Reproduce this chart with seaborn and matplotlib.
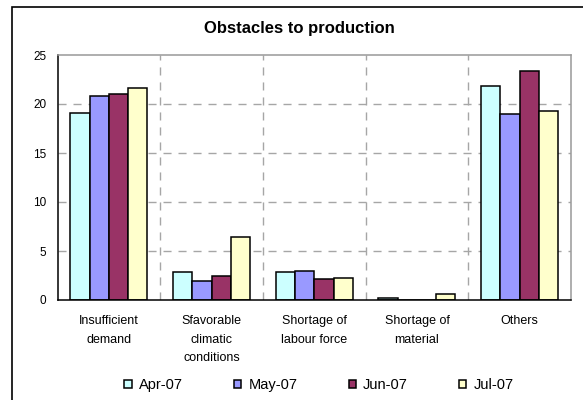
import matplotlib
matplotlib.use("Agg")
import matplotlib.pyplot as plt
import matplotlib.patches as mpatches
import seaborn as sns
import pandas as pd

categories = ["Insufficient\ndemand", "Sfavorable\nclimatic\nconditions",
              "Shortage of\nlabour force", "Shortage of\nmaterial", "Others"]
months = ["Apr-07", "May-07", "Jun-07", "Jul-07"]
apr = [19.1, 2.9, 2.9, 0.2, 21.8]
may = [20.85, 1.95, 3.0, 0.0, 18.95]
jun = [21.05, 2.45, 2.1, 0.0, 23.35]
jul = [21.6, 6.4, 2.25, 0.6, 19.3]
colors = ["#CCFFFF", "#9999FF", "#993366", "#FFFFCC"]
yticks = [0, 5, 10, 15, 20, 25]

rows = []
for m, vals in zip(months, [apr, may, jun, jul]):
    for c, v in zip(categories, vals):
        rows.append({"category": c, "month": m, "value": v})
df = pd.DataFrame(rows)

sns.set_style("white")
plt.rcParams["font.family"] = ["Liberation Sans", "DejaVu Sans"]
plt.rcParams["text.color"] = "black"
plt.rcParams["xtick.color"] = "black"
plt.rcParams["ytick.color"] = "black"
plt.rcParams["xtick.labelcolor"] = "black"
plt.rcParams["ytick.labelcolor"] = "black"

W, H = 583, 400
fig = plt.figure(figsize=(W / 100, H / 100), dpi=100)
fig.patch.set_facecolor("white")
# outer chart frame
fig.patches.append(mpatches.Rectangle((12 / W, -0.1), 1.2, (400 - 7) / H + 0.1,
                                      transform=fig.transFigure, fill=False,
                                      edgecolor="black", linewidth=1.2))

ax = fig.add_axes([57.6 / W, 1 - 300 / H, (571 - 57.6) / W, 245 / H])
sns.barplot(data=df, x="category", y="value", hue="month", palette=colors,
            saturation=1, width=0.75, edgecolor="black", linewidth=1.1,
            ax=ax, legend=True)

ax.set_xlim(-0.5, 4.5)
ax.set_ylim(0, 25)
ax.set_yticks(yticks)
ax.set_yticklabels([str(t) for t in yticks], fontsize=8.5, color="black")
ax.set_xlabel("")
ax.set_ylabel("")

# grid
grid_kw = dict(color="#A6A6A6", linestyle=(0, (5.8, 5.0)), linewidth=1.0, zorder=0)
for t in yticks[1:-1]:
    ax.axhline(t, **grid_kw)
for b in [0.5, 1.5, 2.5, 3.5]:
    ax.axvline(b, **grid_kw)

ax.set_xticks(range(len(categories)))
ax.set_xticklabels(categories, fontsize=9, linespacing=1.72, va="top", color="black")
ax.tick_params(axis="x", which="major", length=0, pad=11)
ax.set_xticks([-0.5, 0.5, 1.5, 2.5, 3.5, 4.5], minor=True)
ax.tick_params(axis="x", which="minor", length=4, width=1, color="black", direction="out")
ax.tick_params(axis="y", length=3, width=1, color="black", direction="out", pad=5)

for s in ["left", "bottom"]:
    ax.spines[s].set_color("black")
    ax.spines[s].set_linewidth(1.1)
for s in ["top", "right"]:
    ax.spines[s].set_color("#999999")
    ax.spines[s].set_linewidth(1.1)

ax.legend_.remove()
handles = [mpatches.Patch(facecolor=c, edgecolor="black", linewidth=1.1) for c in colors]
leg = fig.legend(handles, months, loc="center", bbox_to_anchor=(319 / W, 1 - 385 / H),
                 ncol=4, frameon=False, fontsize=10.5, handlelength=0.5, handleheight=0.5,
                 handletextpad=0.5, columnspacing=3.5)
for t in leg.get_texts():
    t.set_color("black")

fig.text(299 / W, 1 - 28 / H, "Obstacles to production", ha="center", va="center",
         fontsize=12, fontweight="bold", color="black")

fig.savefig("out.png", dpi=100)
